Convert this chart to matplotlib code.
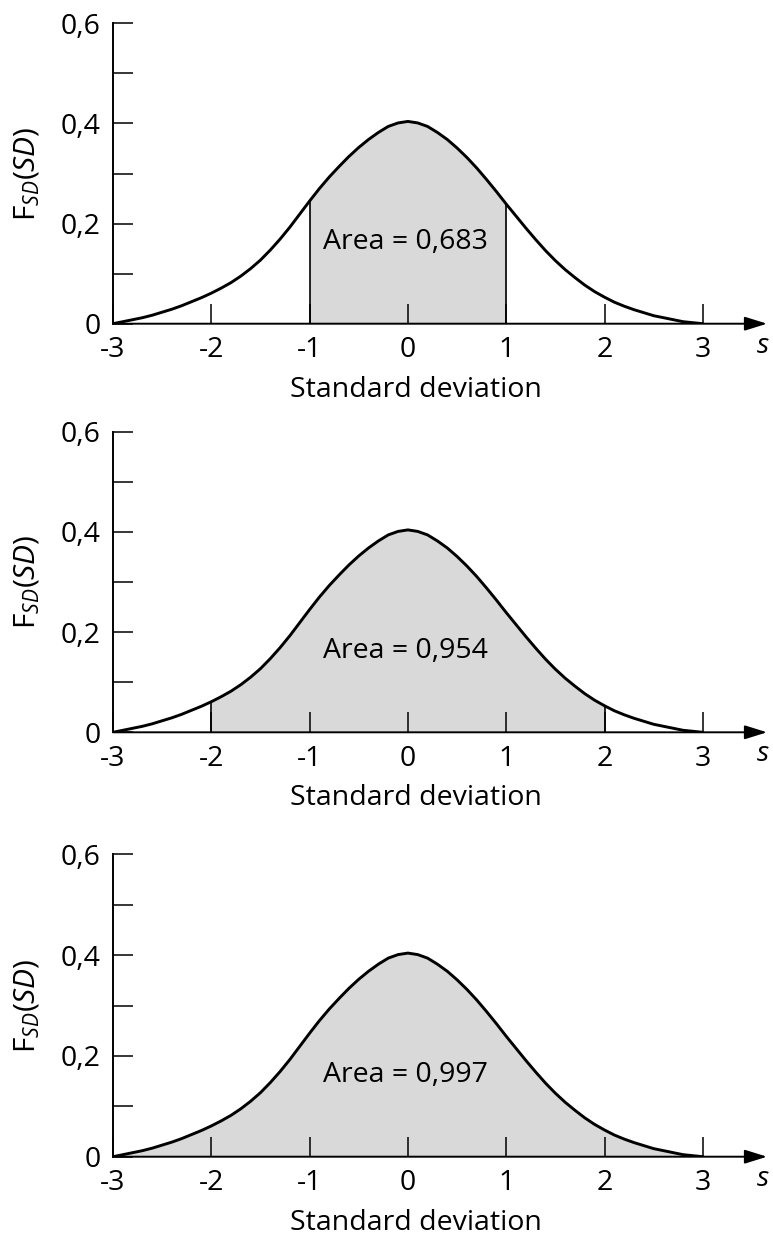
import numpy as np
import matplotlib
matplotlib.use("Agg")
import matplotlib.pyplot as plt
from matplotlib.ticker import FixedLocator

plt.rcParams['font.family'] = ['Open Sans', 'DejaVu Sans']
plt.rcParams['mathtext.fontset'] = 'custom'
plt.rcParams['mathtext.rm'] = 'Open Sans'
plt.rcParams['mathtext.it'] = 'Open Sans:italic'

# Standard deviation axis and density values of the bell curve
s_values = [-3.0, -2.9, -2.8, -2.7, -2.6, -2.5, -2.4, -2.3, -2.2, -2.1,
            -2.0, -1.9, -1.8, -1.7, -1.6, -1.5, -1.4, -1.3, -1.2, -1.1,
            -1.0, -0.9, -0.8, -0.7, -0.6, -0.5, -0.4, -0.3, -0.2, -0.1,
            0.0, 0.1, 0.2, 0.3, 0.4, 0.5, 0.6, 0.7, 0.8, 0.9,
            1.0, 1.1, 1.2, 1.3, 1.4, 1.5, 1.6, 1.7, 1.8, 1.9,
            2.0, 2.1, 2.2, 2.3, 2.4, 2.5, 2.6, 2.7, 2.8, 2.9, 3.0]
density = [0.000, 0.004, 0.008, 0.012, 0.017, 0.023, 0.029, 0.036, 0.044, 0.052,
           0.061, 0.071, 0.082, 0.095, 0.110, 0.127, 0.147, 0.169, 0.193, 0.219,
           0.245, 0.270, 0.293, 0.314, 0.334, 0.352, 0.368, 0.382, 0.394, 0.401,
           0.404, 0.401, 0.394, 0.382, 0.368, 0.351, 0.332, 0.311, 0.288, 0.264,
           0.239, 0.215, 0.191, 0.168, 0.146, 0.126, 0.108, 0.092, 0.077, 0.064,
           0.053, 0.043, 0.035, 0.028, 0.022, 0.016, 0.012, 0.008, 0.004, 0.002, 0.000]

# Shaded interval (in standard deviations) and its probability for each panel
band_limits = [1, 2, 3]
band_areas = ["0,683", "0,954", "0,997"]

x_ticks = [-3, -2, -1, 0, 1, 2, 3]
x_tick_labels = ["-3", "-2", "-1", "0", "1", "2", "3"]
y_major = [0, 0.2, 0.4, 0.6]
y_major_labels = ["0", "0,2", "0,4", "0,6"]
y_minor = [0.1, 0.3, 0.5]

W, H = 773, 1245
fig = plt.figure(figsize=(W / 100, H / 100), dpi=100)
fig.patch.set_facecolor('white')

# (pixel row of y=0, pixel row of y=0.6) for each panel
panel_rows = [(323.7, 23.3), (732.3, 431.7), (1156.7, 854.3)]
left_px, right_px = 113, 767
unit_px = 98.3
x_max = -3 + (right_px - left_px) / unit_px

FS = 20.5
s_arr = np.array(s_values)
d_arr = np.array(density)

for (zero_row, top_row), lim, area in zip(panel_rows, band_limits, band_areas):
    ax = fig.add_axes([left_px / W, 1 - zero_row / H,
                       (right_px - left_px) / W, (zero_row - top_row) / H])
    ax.set_xlim(-3, x_max)
    ax.set_ylim(0, 0.6)
    ax.patch.set_alpha(0)
    for side in ('top', 'right', 'bottom'):
        ax.spines[side].set_visible(False)
    ax.spines['left'].set_linewidth(1.4)

    # shaded band and its boundary lines
    mask = (s_arr >= -lim - 1e-9) & (s_arr <= lim + 1e-9)
    ax.fill_between(s_arr[mask], 0, d_arr[mask], color='#d9d9d9', lw=0, zorder=1)
    if lim < 3:
        for b in (-lim, lim):
            yb = d_arr[np.argmin(np.abs(s_arr - b))]
            ax.plot([b, b], [0, yb], color='black', lw=1.2, zorder=2)

    ax.plot(s_arr, d_arr, color='black', lw=2.1, zorder=3,
            solid_capstyle='round', solid_joinstyle='round')

    # x axis with arrow head
    ax.annotate('', xy=(x_max, 0), xytext=(-3, 0), xycoords='data',
                arrowprops=dict(arrowstyle='-|>,head_length=0.8,head_width=0.25',
                                mutation_scale=17, lw=1.4, color='black',
                                shrinkA=0, shrinkB=0),
                annotation_clip=False, zorder=4)
    ax.text(x_max - 0.04, -0.044, 's', style='italic', fontsize=FS,
            ha='center', va='center')

    ax.xaxis.set_major_locator(FixedLocator(x_ticks))
    ax.set_xticklabels(x_tick_labels)
    ax.yaxis.set_major_locator(FixedLocator(y_major))
    ax.yaxis.set_minor_locator(FixedLocator(y_minor))
    ax.set_yticklabels(y_major_labels)
    ax.tick_params(axis='x', direction='in', length=14.4, width=1.1,
                   labelsize=FS, pad=9)
    ax.tick_params(axis='y', which='both', direction='in', length=14.4,
                   width=1.1, labelsize=FS, pad=9)

    ax.text(-0.03, 0.163, f"Area = {area}", fontsize=FS, ha='center', va='center',
            zorder=5)

    ax.set_ylabel(r'$\mathrm{F}_{SD}\mathit{(SD)}$', fontsize=FS + 1)
    ax.yaxis.set_label_coords(-(113 - 42) / (right_px - left_px), 0.5)

    fig.text(416 / W, 1 - (zero_row + 66) / H, "Standard deviation",
             fontsize=FS, ha='center', va='center')

fig.savefig("out.png", dpi=100, facecolor='white')
